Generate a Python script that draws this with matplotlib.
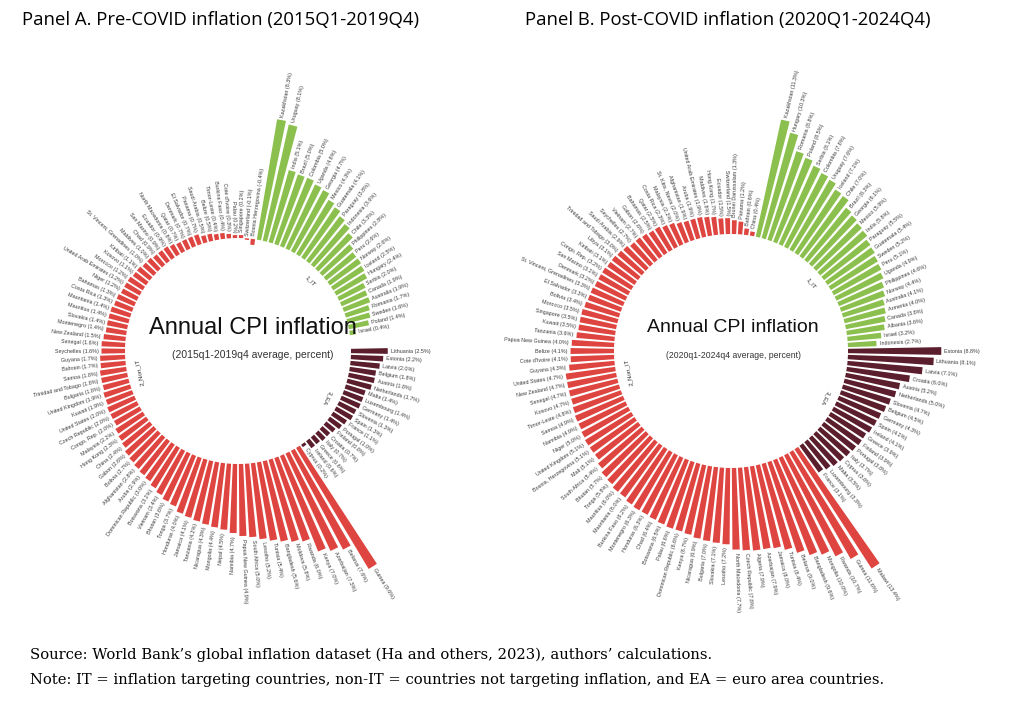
import numpy as np
import matplotlib
matplotlib.use('Agg')
import matplotlib.pyplot as plt

plt.rcParams['font.family'] = ['Liberation Sans', 'DejaVu Sans']

W, H = 1024, 703
R = 280  # half size of each polar axes, in pixels

# ---------------- Panel A: 2015Q1-2019Q4 ----------------
a_it_names = ['Kazakhstan', 'Uruguay', 'India', 'Brazil', 'Colombia', 'Uganda', 'Georgia', 'Mexico',
              'Guatemala', 'Paraguay', 'Indonesia', 'Chile', 'Philippines', 'Peru', 'Norway', 'Iceland',
              'Hungary', 'Serbia', 'Canada', 'Australia', 'Romania', 'Sweden', 'Poland', 'Israel']
a_it_vals = [8.3, 8.1, 5.1, 5.0, 5.0, 4.8, 4.7, 4.3, 4.1, 3.8, 3.6, 3.3, 2.8, 2.6, 2.6, 2.5,
             2.4, 2.0, 1.9, 1.9, 1.7, 1.6, 1.4, 0.4]

a_ea_names = ['Lithuania', 'Estonia', 'Latvia', 'Belgium', 'Austria', 'Netherlands', 'Malta', 'Luxembourg',
              'Germany', 'Slovenia', 'Spain', 'France', 'Portugal', 'Finland', 'Croatia', 'Italy',
              'Greece', 'Ireland', 'Cyprus']
a_ea_vals = [2.5, 2.2, 2.0, 1.8, 1.8, 1.7, 1.4, 1.4, 1.4, 1.3, 1.3, 1.1, 1.0, 0.8, 0.7, 0.7, 0.6, 0.6, 0.2]

a_non_names = ['Guinea', 'Belarus', 'Azerbaijan', 'Kenya', 'Rwanda', 'Moldova', 'Bangladesh', 'Tunisia',
               'Lesotho', 'South Africa', 'Papua New Guinea', 'Namibia', 'Nepal', 'Mongolia', 'Nicaragua',
               'Tanzania', 'Jamaica', 'Honduras', 'Tonga', 'Bhutan', 'Vietnam', 'Botswana',
               'Dominican Republic', 'Aruba', 'Afghanistan', 'Bolivia', 'Gabon', 'China', 'Hong Kong',
               'Malaysia', 'Congo, Rep.', 'Czech Republic', 'United States', 'Kuwait', 'United Kingdom',
               'Bulgaria', 'Trinidad and Tobago', 'Samoa', 'Bahrain', 'Guyana', 'Seychelles', 'Senegal',
               'New Zealand', 'Montenegro', 'Slovakia', 'Mauritius', 'Mauritania', 'Costa Rica', 'Bahamas',
               'Niger', 'United Arab Emirates', 'Morocco', 'Kosovo', 'Kiribati', 'St. Vincent, Grenadines',
               'Maldives', 'Chad', 'San Marino', 'Ecuador', 'North Macedonia', 'Qatar', 'Denmark',
               'El Salvador', 'Panama', 'Saudi Arabia', 'Belize', 'Timor-Leste', 'Burkina Faso',
               "Cote d'Ivoire", 'Palau', 'Singapore', 'Switzerland', 'Bosnia Herzegovina']
a_non_vals = [9.6, 7.6, 7.3, 7.0, 6.0, 5.8, 5.6, 5.4, 5.2, 5.0, 4.9, 4.7, 4.5, 4.4, 4.3,
              4.2, 4.1, 4.0, 3.7, 3.6, 3.4, 3.2, 3.0, 2.9, 2.8, 2.7, 2.6, 2.4, 2.3,
              2.2, 2.0, 2.0, 2.0, 1.9, 1.9, 1.8, 1.8, 1.8, 1.7, 1.7, 1.6, 1.6,
              1.5, 1.4, 1.4, 1.4, 1.4, 1.3, 1.3, 1.2, 1.2, 1.2, 1.1, 1.1, 1.0,
              1.0, 0.9, 0.9, 0.9, 0.8, 0.7, 0.7, 0.7, 0.7, 0.5, 0.5, 0.4, 0.4,
              0.3, 0.2, 0.2, -0.1, -0.4]

# ---------------- Panel B: 2020Q1-2024Q4 ----------------
b_it_names = ['Kazakhstan', 'Hungary', 'Romania', 'Poland', 'Serbia', 'Colombia', 'Uruguay', 'Iceland',
              'Chile', 'Brazil', 'Georgia', 'Mexico', 'India', 'Paraguay', 'Guatemala', 'Sweden', 'Peru',
              'Uganda', 'Philippines', 'Norway', 'Australia', 'Armenia', 'Canada', 'Albania', 'Israel',
              'Indonesia']
b_it_vals = [11.3, 10.3, 8.8, 8.5, 8.1, 7.8, 7.6, 7.1, 7.0, 6.3, 6.1, 5.9, 5.8, 5.5, 5.4, 5.2, 5.1,
             4.9, 4.6, 4.4, 4.1, 4.0, 3.8, 3.6, 3.2, 2.7]

b_ea_names = ['Estonia', 'Lithuania', 'Latvia', 'Croatia', 'Austria', 'Netherlands', 'Slovenia', 'Belgium',
              'Germany', 'Spain', 'Ireland', 'Greece', 'Finland', 'Portugal', 'Italy', 'Cyprus', 'Malta',
              'Luxembourg', 'France']
b_ea_vals = [8.8, 8.1, 7.1, 6.0, 5.2, 5.0, 4.7, 4.5, 4.3, 4.2, 4.1, 3.9, 3.9, 3.8, 3.7, 3.6, 3.5, 3.3, 3.1]

b_non_names = ['Malawi', 'Guinea', 'Rwanda', 'Mongolia', 'Bangladesh', 'Belarus', 'Tunisia', 'Jamaica',
               'Azerbaijan', 'Algeria', 'Czech Republic', 'North Macedonia', 'Lesotho', 'Slovakia',
               'Bulgaria', 'Nicaragua', 'Kenya', 'Dominican Republic', 'Palau', 'Botswana', 'Chad',
               'Honduras', 'Montenegro', 'Burkina Faso', 'Mauritania', 'Mauritius', 'Tonga', 'Bhutan',
               'South Africa', 'Mali', 'Bosnia, Herzegovina', 'United Kingdom', 'Niger', 'Namibia', 'Samoa',
               'Timor-Leste', 'Kosovo', 'Senegal', 'New Zealand', 'United States', 'Guyana', "Cote d'Ivoire",
               'Belize', 'Papua New Guinea', 'Tanzania', 'Kuwait', 'Singapore', 'Morocco', 'Bolivia',
               'El Salvador', 'St. Vincent, Grenadines', 'Denmark', 'San Marino', 'Congo, Rep.', 'Kiribati',
               'Libya', 'Trinidad and Tobago', 'Saudi Arabia', 'Seychelles', 'Vietnam', 'Gabon', 'Bahamas',
               'Qatar', 'Costa Rica', 'Malaysia', 'St. Kitts, Nevis', 'Afghanistan', 'Aruba',
               'United Arab Emirates', 'Maldives', 'Hong Kong', 'Ecuador', 'Switzerland',
               'Brunei Darussalam', 'Panama', 'Bahrain', 'China']
b_non_vals = [13.4, 11.6, 10.7, 10.0, 9.6, 9.0, 8.4, 8.0, 7.9, 7.9, 7.8, 7.7, 7.2, 7.1,
              7.0, 6.9, 6.7, 6.6, 6.6, 6.5, 6.4, 6.3, 6.3, 6.2, 6.0, 6.0, 5.8, 5.7,
              5.4, 5.1, 5.1, 5.1, 5.0, 4.9, 4.9, 4.8, 4.7, 4.7, 4.7, 4.7, 4.3, 4.1,
              4.1, 4.0, 3.6, 3.5, 3.5, 3.5, 3.4, 3.3, 3.3, 3.2, 3.2, 3.2, 3.1,
              3.1, 3.0, 2.9, 2.7, 2.7, 2.6, 2.5, 2.5, 2.3, 2.2, 2.0, 1.9, 1.9,
              1.9, 1.8, 1.7, 1.5, 1.5, 1.3, 1.2, 0.6, 0.4]

c_it = '#8cc04e'
c_non = '#df4540'
c_ea = '#5b1e2c'

fig = plt.figure(figsize=(W / 100, H / 100), dpi=100)


def draw_panel(cx, cy, r0, k, n_slots, start_slot, groups):
    ax = fig.add_axes([(cx - R) / W, (H - cy - R) / H, 2 * R / W, 2 * R / H], projection='polar')
    ax.set_theta_zero_location('N')
    ax.set_theta_direction(-1)
    ax.set_ylim(0, R)
    ax.set_axis_off()
    step = 2 * np.pi / n_slots
    slot = start_slot
    for gname, names, vals, color, gap in groups:
        thetas = []
        for name, v in zip(names, vals):
            th = (slot + 0.5) * step
            thetas.append(th)
            ax.bar(th, v * k, width=step * 0.72, bottom=r0, color=color, linewidth=0)
            deg = np.degrees(th) % 360
            if deg < 180:
                rot, ha = 90 - deg, 'left'
            else:
                rot, ha = 270 - deg, 'right'
            ax.text(th, r0 + max(v, 0) * k + 3, f'{name} ({v:.1f}%)', rotation=rot,
                    rotation_mode='anchor', ha=ha, va='center', fontsize=3.9, color='#3a3a3a')
            slot += 1
        mid = np.mean(thetas)
        ax.text(mid, r0 - 12, gname, rotation=-np.degrees(mid) % 360, rotation_mode='anchor',
                ha='center', va='center', fontsize=4.5, color='#333333')
        slot += gap
    return ax


draw_panel(238, 351, 113, 14.7, 118, 3,
           [('1_IT', a_it_names, a_it_vals, c_it, 2),
            ('3_EA', a_ea_names, a_ea_vals, c_ea, 0),
            ('2_Non_IT', a_non_names, a_non_vals, c_non, 0)])

draw_panel(731, 351, 117, 10.6, 122, 4,
           [('1_IT', b_it_names, b_it_vals, c_it, 0),
            ('3_EA', b_ea_names, b_ea_vals, c_ea, 0),
            ('2_Non_IT', b_non_names, b_non_vals, c_non, 0)])

# centre texts
fig.text(253 / W, 1 - 328 / H, 'Annual CPI inflation', ha='center', va='center', fontsize=17, color='#111111')
fig.text(253 / W, 1 - 355 / H, '(2015q1-2019q4 average, percent)', ha='center', va='center',
         fontsize=7.5, color='#333333')
fig.text(733 / W, 1 - 328 / H, 'Annual CPI inflation', ha='center', va='center', fontsize=14, color='#111111')
fig.text(733 / W, 1 - 355 / H, '(2020q1-2024q4 average, percent)', ha='center', va='center',
         fontsize=6.2, color='#333333')

# panel titles
fig.text(22 / W, 1 - 20 / H, 'Panel A. Pre-COVID inflation (2015Q1-2019Q4)', ha='left', va='center',
         fontsize=13.3, family=['Open Sans', 'DejaVu Sans'])
fig.text(525 / W, 1 - 20 / H, 'Panel B. Post-COVID inflation (2020Q1-2024Q4)', ha='left', va='center',
         fontsize=13.3, family=['Open Sans', 'DejaVu Sans'])

# footnotes
fig.text(30 / W, 1 - 655 / H,
         "Source: World Bank\u2019s global inflation dataset (Ha and others, 2023), authors\u2019 calculations.",
         ha='left', va='center', fontsize=10.65, family=['DejaVu Serif'])
fig.text(30 / W, 1 - 680 / H,
         'Note: IT = inflation targeting countries, non-IT = countries not targeting inflation, '
         'and EA = euro area countries.',
         ha='left', va='center', fontsize=10.65, family=['DejaVu Serif'])

fig.savefig('out.png', dpi=100, facecolor='white')
